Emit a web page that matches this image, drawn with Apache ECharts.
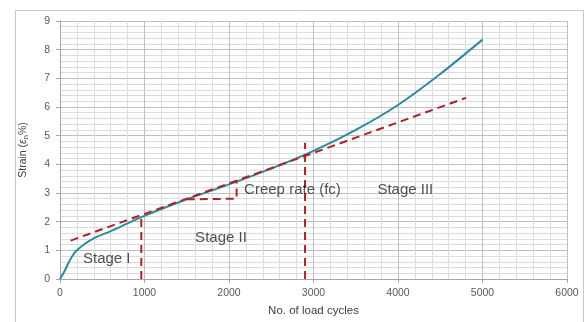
<!DOCTYPE html>
<html>
<head>
<meta charset="utf-8">
<script src="https://cdn.jsdelivr.net/npm/echarts@6/dist/echarts.min.js"></script>
<style>
  html, body { margin: 0; padding: 0; background: #fff; }
  #chart { width: 585px; height: 322px; }
</style>
</head>
<body>
<div id="chart"></div>
<script>
// strain curve (cycles, strain %)
var cycles = [0, 50, 100, 150, 200, 300, 400, 600, 800, 1000, 1200, 1500, 2000, 2500, 3000, 3500, 4000, 4500, 5000];
var strain = [0, 0.25, 0.56, 0.82, 1.0, 1.24, 1.42, 1.67, 1.94, 2.2, 2.44, 2.78, 3.3, 3.85, 4.47, 5.2, 6.07, 7.15, 8.35];

// dashed construction lines
var tangentLine = [[126, 1.34], [4805, 6.32]];
var stage1Limit = [[962, 0], [962, 2.2]];
var stage2Limit = [[2900, 0], [2900, 4.75]];
var creepTriangle = [[1500, 2.78], [2090, 2.8], [2090, 3.44]];

// annotations
var notes = [
  {text: 'Stage I', at: [553, 0.70]},
  {text: 'Stage II', at: [1905, 1.44]},
  {text: 'Creep rate (fc)', at: [2751, 3.12]},
  {text: 'Stage III', at: [4087, 3.11]}
];

var xTicks = [0, 1000, 2000, 3000, 4000, 5000, 6000];
var yTicks = [0, 1, 2, 3, 4, 5, 6, 7, 8, 9];

var chart = echarts.init(document.getElementById('chart'), null, {renderer: 'canvas'});

var dashRed = {color: '#a8232a', width: 2, type: [8, 5]};

function dashed(data) {
  return {
    type: 'line', data: data, symbol: 'none', silent: true,
    lineStyle: dashRed, z: 3
  };
}

var labelFont = 'Liberation Sans, Arial, sans-serif';

chart.setOption({
  animation: false,
  textStyle: {fontFamily: labelFont},
  graphic: [{
    type: 'rect', shape: {x: 15.5, y: 10.5, width: 568, height: 330},
    style: {fill: null, stroke: '#c8c8c8', lineWidth: 1}, silent: true
  }],
  grid: {left: 60, right: 18, top: 21, bottom: 41},
  xAxis: {
    type: 'value', min: xTicks[0], max: xTicks[xTicks.length - 1], interval: 1000,
    name: 'No. of load cycles', nameLocation: 'middle', nameGap: 26,
    nameTextStyle: {fontSize: 11.5, color: '#404040'},
    axisLine: {show: true, lineStyle: {color: '#a6a6a6'}},
    axisTick: {show: true, length: 4, lineStyle: {color: '#a6a6a6'}},
    axisLabel: {fontSize: 10.5, color: '#595959', margin: 9, formatter: function (v) { return String(v); }},
    splitLine: {show: true, lineStyle: {color: '#bfbfbf', width: 1}},
    minorTick: {show: false, splitNumber: 5},
    minorSplitLine: {show: true, lineStyle: {color: '#dcdcdc', width: 1}}
  },
  yAxis: {
    type: 'value', min: yTicks[0], max: yTicks[yTicks.length - 1], interval: 1,
    name: 'Strain ({e|ε}{s|n}%)', nameLocation: 'middle', nameGap: 30,
    nameTextStyle: {
      fontSize: 10.5, color: '#404040',
      rich: {
        e: {fontSize: 10.5, fontStyle: 'italic', color: '#404040'},
        s: {fontSize: 7.5, color: '#404040', padding: [6, 0, 0, 0]}
      }
    },
    axisLine: {show: true, lineStyle: {color: '#a6a6a6'}},
    axisTick: {show: true, length: 4, lineStyle: {color: '#a6a6a6'}},
    axisLabel: {fontSize: 10.5, color: '#595959', margin: 10},
    splitLine: {show: true, lineStyle: {color: '#bfbfbf', width: 1}},
    minorTick: {show: false, splitNumber: 5},
    minorSplitLine: {show: true, lineStyle: {color: '#dcdcdc', width: 1}}
  },
  series: [
    {
      type: 'line', smooth: 0.3, symbol: 'none', z: 2,
      data: cycles.map(function (c, i) { return [c, strain[i]]; }),
      lineStyle: {color: '#2e8a98', width: 2}
    },
    dashed(tangentLine),
    dashed(stage1Limit),
    dashed(stage2Limit),
    dashed(creepTriangle),
    {
      type: 'scatter', symbolSize: 0, silent: true, z: 5,
      data: notes.map(function (n) { return {value: n.at, name: n.text}; }),
      label: {
        show: true, position: 'inside', formatter: '{b}',
        fontSize: 15, color: '#262626', fontFamily: labelFont
      }
    }
  ]
});
</script>
</body>
</html>
